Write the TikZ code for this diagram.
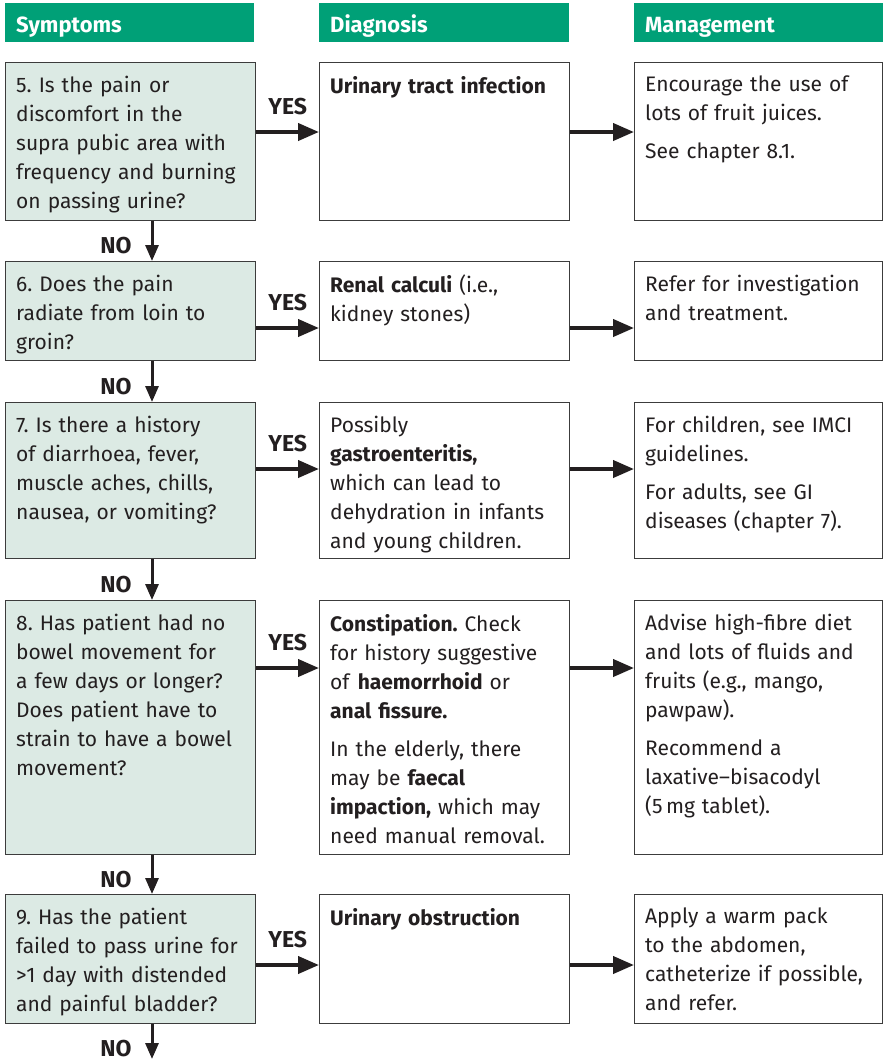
\documentclass[tikz,border=0pt]{standalone}
\usepackage{fontspec}
\setmainfont{Fira Sans}
\usetikzlibrary{arrows.meta}
\definecolor{hdrgreen}{HTML}{00A077}
\definecolor{symfill}{HTML}{DCEAE4}
\definecolor{boxline}{HTML}{3C3C3C}
\definecolor{ink}{HTML}{231F20}
\frenchspacing
\begin{document}
\begin{tikzpicture}[x=1pt,y=-1pt,
  header/.style={fill=hdrgreen, anchor=north west, minimum height=39pt,
    text=white, font=\bfseries\fontsize{22}{26}\selectfont,
    text height=19pt, text depth=0pt,
    inner xsep=11pt, inner ysep=0pt, align=left},
  box/.style={draw=boxline, line width=1.4pt, anchor=north west, inner sep=0pt},
  symbox/.style={box, fill=symfill, minimum width=250pt},
  diagbox/.style={box, fill=white, minimum width=250pt},
  mgmtbox/.style={box, fill=white, minimum width=248pt},
  body/.style={anchor=north west, inner sep=0pt, align=left, text width=232pt,
    text=ink, font=\fontsize{21}{29}\selectfont},
  harrow/.style={draw=ink, line width=4pt, -{Triangle[length=21pt,width=17pt]}},
  varrow/.style={draw=ink, line width=3pt, -{Triangle[length=16pt,width=13pt]}},
  lbl/.style={inner sep=0pt, text=ink, font=\bfseries\fontsize{23}{27}\selectfont},
  nolbl/.style={lbl, anchor=base east, xshift=-19pt, yshift=-12.5pt},
]
\useasboundingbox (0,0) rectangle (883,1061);

% column headers
\node[header, text width=227pt] (hs) at (5,3) {Symptoms};
\node[header, text width=228pt] (hd) at (319,3) {Diagnosis};
\node[header, text width=227pt] (hm) at (634,3) {Management};

% row 5
\node[symbox, minimum height=158pt] (s5) at (5,62) {};
\node[diagbox, minimum height=158pt] (d5) at (319,62) {};
\node[mgmtbox, minimum height=158pt] (m5) at (634,62) {};
\node[body] (s5t) at (16,76) {5. Is the pain or\\discomfort in the\\supra pubic area with\\frequency and burning\\on passing urine?};
\node[body] (d5t) at (330,76) {\textbf{Urinary tract infection}};
\node[body] (m5t) at (645,76) {Encourage the use of\\lots of fruit juices.\\[9pt]See chapter 8.1.};

% row 6
\node[symbox, minimum height=99pt] (s6) at (5,261) {};
\node[diagbox, minimum height=99pt] (d6) at (319,261) {};
\node[mgmtbox, minimum height=99pt] (m6) at (634,261) {};
\node[body] (s6t) at (16,275) {6. Does the pain\\radiate from loin to\\groin?};
\node[body] (d6t) at (330,275) {\textbf{Renal calculi} (i.e.,\\kidney stones)};
\node[body] (m6t) at (645,275) {Refer for investigation\\and treatment.};

% row 7
\node[symbox, minimum height=156pt] (s7) at (5,402) {};
\node[diagbox, minimum height=156pt] (d7) at (319,402) {};
\node[mgmtbox, minimum height=156pt] (m7) at (634,402) {};
\node[body] (s7t) at (16,416) {7. Is there a history\\of diarrhoea, fever,\\muscle aches, chills,\\nausea, or vomiting?};
\node[body] (d7t) at (330,416) {Possibly\\\textbf{gastroenteritis,}\\which can lead to\\dehydration in infants\\and young children.};
\node[body] (m7t) at (645,416) {For children, see IMCI\\guidelines.\\[9pt]For adults, see GI\\diseases (chapter 7).};

% row 8
\node[symbox, minimum height=254pt] (s8) at (5,600) {};
\node[diagbox, minimum height=254pt] (d8) at (319,600) {};
\node[mgmtbox, minimum height=254pt] (m8) at (634,600) {};
\node[body] (s8t) at (16,614) {8. Has patient had no\\bowel movement for\\a few days or longer?\\Does patient have to\\strain to have a bowel\\movement?};
\node[body] (d8t) at (330,614) {\textbf{Constipation.} Check\\for history suggestive\\of \textbf{haemorrhoid} or\\\textbf{anal fissure.}\\[9pt]In the elderly, there\\may be \textbf{faecal}\\\textbf{impaction,} which may\\need manual removal.};
\node[body] (m8t) at (645,614) {Advise high-fibre diet\\and lots of fluids and\\fruits (e.g., mango,\\pawpaw).\\[9pt]Recommend a\\laxative--bisacodyl\\(5\,mg tablet).};

% row 9
\node[symbox, minimum height=129pt] (s9) at (5,894) {};
\node[diagbox, minimum height=129pt] (d9) at (319,894) {};
\node[mgmtbox, minimum height=129pt] (m9) at (634,894) {};
\node[body] (s9t) at (16,908) {9. Has the patient\\failed to pass urine for\\>1 day with distended\\and painful bladder?};
\node[body] (d9t) at (330,908) {\textbf{Urinary obstruction}};
\node[body] (m9t) at (645,908) {Apply a warm pack\\to the abdomen,\\catheterize if possible,\\and refer.};

% arrow heights and the NO column
\coordinate (r5) at (0,132);
\coordinate (r6) at (0,328);
\coordinate (r7) at (0,469);
\coordinate (r8) at (0,668);
\coordinate (r9) at (0,965);
\coordinate (nocol) at (152,0);
\coordinate (exit) at (152,1059);

% YES connectors
\foreach \r in {5,6,7,8,9}{
  \draw[harrow] (s\r.east |- r\r) -- node[lbl, anchor=base, yshift=18pt] {YES} (d\r.west |- r\r);
  \draw[harrow] (d\r.east |- r\r) -- (m\r.west |- r\r);
}

% NO connectors
\draw[varrow] (s5.south -| nocol) -- node[nolbl] {NO} (s6.north -| nocol);
\draw[varrow] (s6.south -| nocol) -- node[nolbl] {NO} (s7.north -| nocol);
\draw[varrow] (s7.south -| nocol) -- node[nolbl] {NO} (s8.north -| nocol);
\draw[varrow] (s8.south -| nocol) -- node[nolbl] {NO} (s9.north -| nocol);
\draw[varrow] (s9.south -| nocol) -- node[nolbl, yshift=-2pt] {NO} (exit);
\end{tikzpicture}
\end{document}
